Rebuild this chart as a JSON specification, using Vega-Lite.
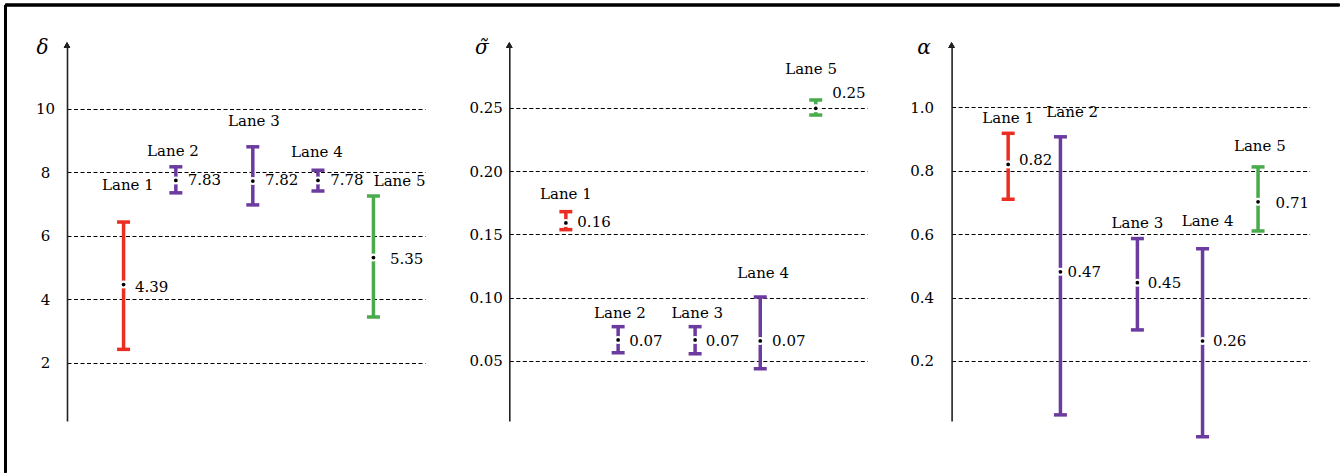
{
  "$schema": "https://vega.github.io/schema/vega-lite/v6.json",
  "padding": {"left": 4, "top": 3, "right": 0, "bottom": 0},
  "bounds": "flush",
  "spacing": 84.3,
  "background": "white",
  "config": {
    "view": {"stroke": null},
    "axis": {
      "domainColor": "#222", "domainWidth": 1.6, "ticks": false, "tickSize": 0,
      "grid": true, "gridColor": "#000", "gridDash": [4, 2.5], "gridWidth": 1, "gridOpacity": 1,
      "labelFont": "DejaVu Serif", "labelFontSize": 15, "labelColor": "#000",
      "titleFont": "DejaVu Serif", "titleFontSize": 20, "titleFontStyle": "italic", "titleFontWeight": "normal",
      "titleAngle": 0, "titleAlign": "center", "titleBaseline": "middle", "titleColor": "#000"
    },
    "text": {"font": "DejaVu Serif", "fontSize": 15, "color": "#000"}
  },
  "hconcat": [
    {
      "width": 358, "height": 376,
      "data": {"values": [
        {"lane": "Lane 1", "pos": 15.8, "lo": 2.42, "mid": 4.46, "hi": 6.43, "val": "4.39", "vx": 19.0, "vy": 4.39, "lx": 17.0, "ly": 7.60},
        {"lane": "Lane 2", "pos": 30.4, "lo": 7.35, "mid": 7.74, "hi": 8.17, "val": "7.83", "vx": 33.7, "vy": 7.75, "lx": 29.6, "ly": 8.67},
        {"lane": "Lane 3", "pos": 51.9, "lo": 6.97, "mid": 7.72, "hi": 8.80, "val": "7.82", "vx": 55.3, "vy": 7.75, "lx": 52.2, "ly": 9.61},
        {"lane": "Lane 4", "pos": 70.1, "lo": 7.41, "mid": 7.74, "hi": 8.06, "val": "7.78", "vx": 73.5, "vy": 7.75, "lx": 69.8, "ly": 8.64},
        {"lane": "Lane 5", "pos": 85.6, "lo": 3.44, "mid": 5.31, "hi": 7.25, "val": "5.35", "vx": 90.2, "vy": 5.26, "lx": 92.9, "ly": 7.72}
      ]},
      "layer": [
        {"mark": {"type": "rule", "strokeWidth": 3.5},
         "encoding": {
           "x": {"field": "pos", "type": "quantitative", "scale": {"domain": [0, 100], "nice": false, "zero": false}, "axis": null},
           "y": {"field": "lo", "type": "quantitative", "scale": {"domain": [0.164, 12.006], "nice": false, "zero": false},
                 "axis": {"title": "δ", "values": [2, 4, 6, 8, 10], "format": "d", "labelAlign": "center", "labelPadding": 22, "titleX": -25, "titleY": 2}},
           "y2": {"field": "hi"},
           "color": {"field": "lane", "type": "nominal", "scale": {"domain": ["Lane 1", "Lane 2", "Lane 3", "Lane 4", "Lane 5"], "range": ["#ec2d22", "#6c3ba0", "#6c3ba0", "#6c3ba0", "#4aab4c"]}, "legend": null}
         }},
        {"mark": {"type": "tick", "orient": "horizontal", "size": 13, "thickness": 3.5, "opacity": 1},
         "encoding": {
           "x": {"field": "pos", "type": "quantitative", "axis": null},
           "y": {"field": "hi", "type": "quantitative"},
           "color": {"field": "lane", "type": "nominal", "legend": null}
         }},
        {"mark": {"type": "tick", "orient": "horizontal", "size": 13, "thickness": 3.5, "opacity": 1},
         "encoding": {
           "x": {"field": "pos", "type": "quantitative", "axis": null},
           "y": {"field": "lo", "type": "quantitative"},
           "color": {"field": "lane", "type": "nominal", "legend": null}
         }},
        {"mark": {"type": "point", "filled": true, "color": "white", "size": 64, "opacity": 1},
         "encoding": {
           "x": {"field": "pos", "type": "quantitative", "axis": null},
           "y": {"field": "mid", "type": "quantitative"}
         }},
        {"mark": {"type": "point", "filled": true, "color": "black", "size": 14, "opacity": 1},
         "encoding": {
           "x": {"field": "pos", "type": "quantitative", "axis": null},
           "y": {"field": "mid", "type": "quantitative"}
         }},
        {"mark": {"type": "text", "align": "center", "baseline": "middle"},
         "encoding": {
           "x": {"field": "lx", "type": "quantitative", "axis": null},
           "y": {"field": "ly", "type": "quantitative"},
           "text": {"field": "lane"}
         }},
        {"mark": {"type": "text", "align": "left", "baseline": "middle"},
         "encoding": {
           "x": {"field": "vx", "type": "quantitative", "axis": null},
           "y": {"field": "vy", "type": "quantitative"},
           "text": {"field": "val"}
         }},
        {"mark": {"type": "point", "shape": "triangle-up", "filled": true, "color": "#222", "size": 40, "opacity": 1},
         "encoding": {
           "x": {"datum": 0, "type": "quantitative", "axis": null},
           "y": {"datum": 12.006, "type": "quantitative"}
         }},
        {"mark": {"type": "rule", "strokeWidth": 2.6, "color": "#000"},
         "encoding": {
           "x": {"datum": -17.23, "type": "quantitative", "axis": null},
           "x2": {"datum": 355.45},
           "y": {"datum": 13.266, "type": "quantitative"}
         }},
        {"mark": {"type": "rule", "strokeWidth": 2.6, "color": "#000"},
         "encoding": {
           "x": {"datum": -17.23, "type": "quantitative", "axis": null},
           "y": {"datum": 13.266, "type": "quantitative"},
           "y2": {"datum": -1.458}
         }}
      ]
    },
    {
      "width": 358, "height": 376,
      "data": {"values": [
        {"lane": "Lane 1", "pos": 15.8, "lo": 0.1537, "mid": 0.159, "hi": 0.1679, "val": "0.16", "vx": 19.0, "vy": 0.160, "lx": 15.8, "ly": 0.1816},
        {"lane": "Lane 2", "pos": 30.4, "lo": 0.0565, "mid": 0.0666, "hi": 0.0771, "val": "0.07", "vx": 33.5, "vy": 0.0658, "lx": 30.9, "ly": 0.0881},
        {"lane": "Lane 3", "pos": 51.9, "lo": 0.0557, "mid": 0.0666, "hi": 0.0771, "val": "0.07", "vx": 54.9, "vy": 0.0658, "lx": 52.5, "ly": 0.0881},
        {"lane": "Lane 4", "pos": 70.1, "lo": 0.0439, "mid": 0.0658, "hi": 0.1005, "val": "0.07", "vx": 73.4, "vy": 0.0658, "lx": 70.9, "ly": 0.1193},
        {"lane": "Lane 5", "pos": 85.6, "lo": 0.2442, "mid": 0.2495, "hi": 0.2561, "val": "0.25", "vx": 90.2, "vy": 0.2618, "lx": 84.3, "ly": 0.2803}
      ]},
      "layer": [
        {"mark": {"type": "rule", "strokeWidth": 3.5},
         "encoding": {
           "x": {"field": "pos", "type": "quantitative", "scale": {"domain": [0, 100], "nice": false, "zero": false}, "axis": null},
           "y": {"field": "lo", "type": "quantitative", "scale": {"domain": [0.00262, 0.2995], "nice": false, "zero": false},
                 "axis": {"title": "σ̃", "values": [0.05, 0.1, 0.15, 0.2, 0.25], "format": ".2f", "labelAlign": "right", "labelPadding": 7, "titleX": -28, "titleY": 2}},
           "y2": {"field": "hi"},
           "color": {"field": "lane", "type": "nominal", "scale": {"domain": ["Lane 1", "Lane 2", "Lane 3", "Lane 4", "Lane 5"], "range": ["#ec2d22", "#6c3ba0", "#6c3ba0", "#6c3ba0", "#4aab4c"]}, "legend": null}
         }},
        {"mark": {"type": "tick", "orient": "horizontal", "size": 13, "thickness": 3.5, "opacity": 1},
         "encoding": {
           "x": {"field": "pos", "type": "quantitative", "axis": null},
           "y": {"field": "hi", "type": "quantitative"},
           "color": {"field": "lane", "type": "nominal", "legend": null}
         }},
        {"mark": {"type": "tick", "orient": "horizontal", "size": 13, "thickness": 3.5, "opacity": 1},
         "encoding": {
           "x": {"field": "pos", "type": "quantitative", "axis": null},
           "y": {"field": "lo", "type": "quantitative"},
           "color": {"field": "lane", "type": "nominal", "legend": null}
         }},
        {"mark": {"type": "point", "filled": true, "color": "white", "size": 64, "opacity": 1},
         "encoding": {
           "x": {"field": "pos", "type": "quantitative", "axis": null},
           "y": {"field": "mid", "type": "quantitative"}
         }},
        {"mark": {"type": "point", "filled": true, "color": "black", "size": 14, "opacity": 1},
         "encoding": {
           "x": {"field": "pos", "type": "quantitative", "axis": null},
           "y": {"field": "mid", "type": "quantitative"}
         }},
        {"mark": {"type": "text", "align": "center", "baseline": "middle"},
         "encoding": {
           "x": {"field": "lx", "type": "quantitative", "axis": null},
           "y": {"field": "ly", "type": "quantitative"},
           "text": {"field": "lane"}
         }},
        {"mark": {"type": "text", "align": "left", "baseline": "middle"},
         "encoding": {
           "x": {"field": "vx", "type": "quantitative", "axis": null},
           "y": {"field": "vy", "type": "quantitative"},
           "text": {"field": "val"}
         }},
        {"mark": {"type": "point", "shape": "triangle-up", "filled": true, "color": "#222", "size": 40, "opacity": 1},
         "encoding": {
           "x": {"datum": 0, "type": "quantitative", "axis": null},
           "y": {"datum": 0.2995, "type": "quantitative"}
         }}
      ]
    },
    {
      "width": 358, "height": 376,
      "data": {"values": [
        {"lane": "Lane 1", "pos": 15.8, "lo": 0.710, "mid": 0.820, "hi": 0.918, "val": "0.82", "vx": 18.8, "vy": 0.834, "lx": 15.8, "ly": 0.967},
        {"lane": "Lane 2", "pos": 30.4, "lo": 0.030, "mid": 0.481, "hi": 0.907, "val": "0.47", "vx": 32.4, "vy": 0.481, "lx": 33.7, "ly": 0.985},
        {"lane": "Lane 3", "pos": 51.9, "lo": 0.298, "mid": 0.447, "hi": 0.586, "val": "0.45", "vx": 54.8, "vy": 0.446, "lx": 51.9, "ly": 0.636},
        {"lane": "Lane 4", "pos": 70.1, "lo": -0.039, "mid": 0.263, "hi": 0.554, "val": "0.26", "vx": 73.0, "vy": 0.263, "lx": 71.5, "ly": 0.641},
        {"lane": "Lane 5", "pos": 85.6, "lo": 0.610, "mid": 0.702, "hi": 0.812, "val": "0.71", "vx": 90.5, "vy": 0.699, "lx": 86.1, "ly": 0.878}
      ]},
      "layer": [
        {"mark": {"type": "rule", "strokeWidth": 3.5},
         "encoding": {
           "x": {"field": "pos", "type": "quantitative", "scale": {"domain": [0, 100], "nice": false, "zero": false}, "axis": null},
           "y": {"field": "lo", "type": "quantitative", "scale": {"domain": [0.0107, 1.1965], "nice": false, "zero": false},
                 "axis": {"title": "α", "values": [0.2, 0.4, 0.6, 0.8, 1.0], "format": ".1f", "labelAlign": "right", "labelPadding": 18, "titleX": -28, "titleY": 2}},
           "y2": {"field": "hi"},
           "color": {"field": "lane", "type": "nominal", "scale": {"domain": ["Lane 1", "Lane 2", "Lane 3", "Lane 4", "Lane 5"], "range": ["#ec2d22", "#6c3ba0", "#6c3ba0", "#6c3ba0", "#4aab4c"]}, "legend": null}
         }},
        {"mark": {"type": "tick", "orient": "horizontal", "size": 13, "thickness": 3.5, "opacity": 1},
         "encoding": {
           "x": {"field": "pos", "type": "quantitative", "axis": null},
           "y": {"field": "hi", "type": "quantitative"},
           "color": {"field": "lane", "type": "nominal", "legend": null}
         }},
        {"mark": {"type": "tick", "orient": "horizontal", "size": 13, "thickness": 3.5, "opacity": 1},
         "encoding": {
           "x": {"field": "pos", "type": "quantitative", "axis": null},
           "y": {"field": "lo", "type": "quantitative"},
           "color": {"field": "lane", "type": "nominal", "legend": null}
         }},
        {"mark": {"type": "point", "filled": true, "color": "white", "size": 64, "opacity": 1},
         "encoding": {
           "x": {"field": "pos", "type": "quantitative", "axis": null},
           "y": {"field": "mid", "type": "quantitative"}
         }},
        {"mark": {"type": "point", "filled": true, "color": "black", "size": 14, "opacity": 1},
         "encoding": {
           "x": {"field": "pos", "type": "quantitative", "axis": null},
           "y": {"field": "mid", "type": "quantitative"}
         }},
        {"mark": {"type": "text", "align": "center", "baseline": "middle"},
         "encoding": {
           "x": {"field": "lx", "type": "quantitative", "axis": null},
           "y": {"field": "ly", "type": "quantitative"},
           "text": {"field": "lane"}
         }},
        {"mark": {"type": "text", "align": "left", "baseline": "middle"},
         "encoding": {
           "x": {"field": "vx", "type": "quantitative", "axis": null},
           "y": {"field": "vy", "type": "quantitative"},
           "text": {"field": "val"}
         }},
        {"mark": {"type": "point", "shape": "triangle-up", "filled": true, "color": "#222", "size": 40, "opacity": 1},
         "encoding": {
           "x": {"datum": 0, "type": "quantitative", "axis": null},
           "y": {"datum": 1.1965, "type": "quantitative"}
         }}
      ]
    }
  ]
}
